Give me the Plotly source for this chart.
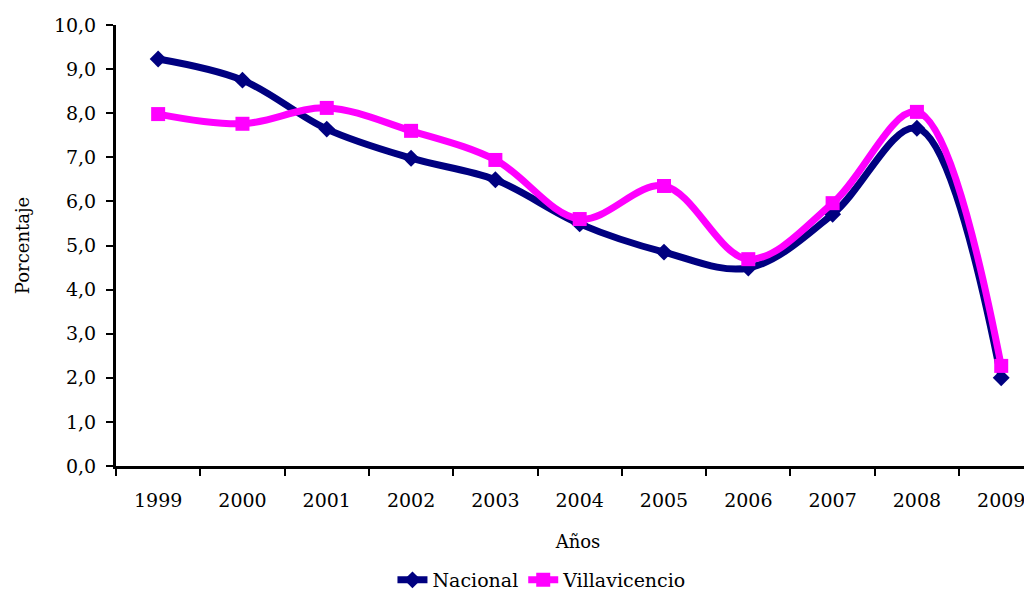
import plotly.graph_objects as go

years = ["1999", "2000", "2001", "2002", "2003", "2004", "2005", "2006", "2007", "2008", "2009"]
nacional = [9.23, 8.75, 7.64, 6.98, 6.49, 5.49, 4.85, 4.49, 5.71, 7.66, 2.00]
villavicencio = [7.98, 7.76, 8.12, 7.60, 6.94, 5.60, 6.35, 4.69, 5.96, 8.03, 2.27]
y_ticks = [0, 1, 2, 3, 4, 5, 6, 7, 8, 9, 10]

FONT = "DejaVu Serif"

fig = go.Figure()
fig.add_trace(go.Scatter(
    x=years, y=nacional, name="Nacional", mode="lines+markers",
    line=dict(color="#000080", width=7, shape="spline", smoothing=1.0),
    marker=dict(symbol="diamond", size=13, color="#000080"),
))
fig.add_trace(go.Scatter(
    x=years, y=villavicencio, name="Villavicencio", mode="lines+markers",
    line=dict(color="#FF00FF", width=7, shape="spline", smoothing=1.0),
    marker=dict(symbol="square", size=14, color="#FF00FF"),
))

fig.update_layout(
    width=1032, height=590,
    margin=dict(l=108, r=0, t=17, b=132, autoexpand=False),
    paper_bgcolor="white", plot_bgcolor="white",
    separators=",.",
    font=dict(family=FONT, size=19, color="black"),
    showlegend=True,
    legend=dict(orientation="h", x=0.461, xanchor="center", y=-0.2585, yanchor="middle",
                font=dict(family=FONT, size=19), tracegroupgap=0),
    xaxis=dict(
        type="category", range=[-0.5, 10.46], automargin=False,
        showline=True, linecolor="black", linewidth=3,
        ticks="outside", ticklen=7, tickwidth=2, tickcolor="black",
        tickson="boundaries", showgrid=False, zeroline=False,
        ticklabelstandoff=15,
        title=dict(text="Años", font=dict(family=FONT, size=18), standoff=26),
    ),
    yaxis=dict(
        range=[0, 10], tickvals=y_ticks, tickformat=".1f", automargin=False,
        showline=True, linecolor="black", linewidth=3,
        ticks="outside", ticklen=7, tickwidth=2, tickcolor="black",
        showgrid=False, zeroline=False,
        ticklabelstandoff=6,
        title=dict(text="Porcentaje", font=dict(family=FONT, size=18), standoff=20),
    ),
)

fig.write_html("out.html")
